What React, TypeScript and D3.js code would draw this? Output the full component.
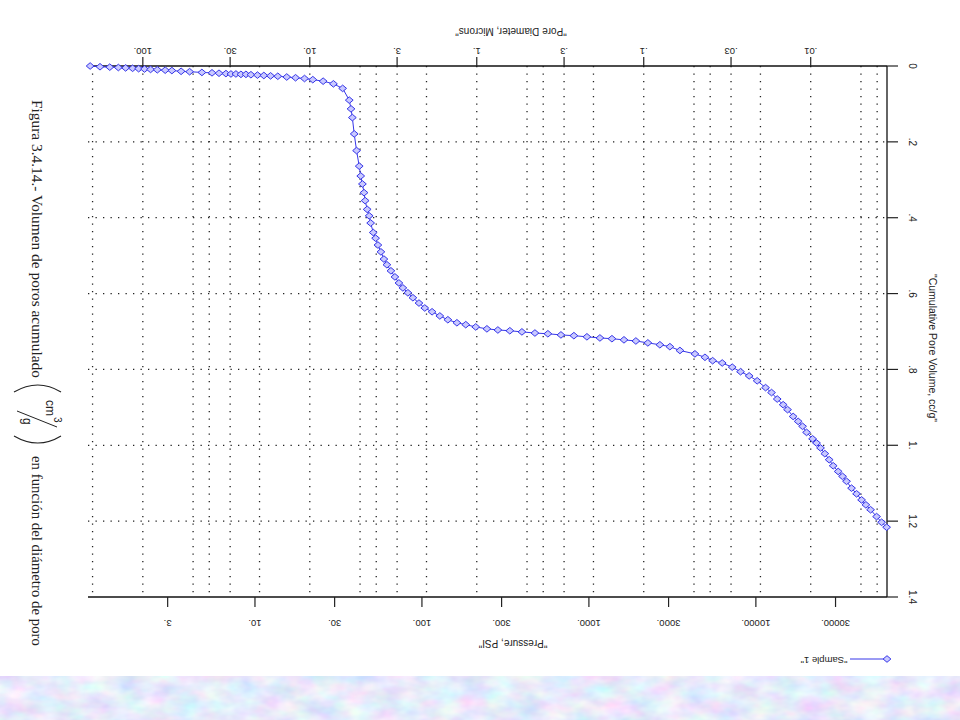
import React from "react";
import * as d3 from "d3";

// ---- data: Sample 1 (pressure in PSI, cumulative pore volume in cc/g) ----
const pressure = [
  1.03, 1.18, 1.35, 1.52, 1.68, 1.85, 2.01, 2.18, 2.37, 2.6, 2.9, 3.18, 3.61, 4.06, 4.81, 5.53, 6.09, 6.7, 7.18, 7.69,
  8.24, 8.83, 9.46, 10.35, 11.3, 12.4, 13.7, 15.5, 17.5, 19.8, 22.2, 25.6, 29.5, 33.5, 36.7, 37.6, 38.3, 39.3, 40.6, 42.1,
  43.0, 44.0, 45.0, 45.7, 47.0, 48.3, 49.3, 51.1, 52.8, 54.5, 56.8, 59.2, 61.7, 65.2, 68.9, 72.8, 76.9, 82.4, 88.3, 96.0,
  104, 115, 128, 143, 162, 183, 210, 245, 285, 336, 397, 475, 568, 680, 813, 973, 1164, 1374, 1622, 1911,
  2255, 2661, 3055, 3508, 4315, 4955, 5510, 6285, 7215, 8095, 9115, 10180, 11430, 12410, 13420, 14570, 15480, 16720, 17920, 19040,
  20120, 21860, 23080, 24390, 25880, 27480, 29040, 31110, 33040, 34920, 37410, 40090, 42960, 45590, 48640, 52840, 56620, 60680,
];
const volume = [
  0.0, 0.002, 0.003, 0.004, 0.005, 0.006, 0.007, 0.008, 0.009, 0.01, 0.011, 0.012, 0.014, 0.015, 0.017, 0.018, 0.019, 0.02, 0.021, 0.021,
  0.022, 0.022, 0.023, 0.024, 0.025, 0.026, 0.027, 0.029, 0.031, 0.033, 0.036, 0.04, 0.047, 0.059, 0.09, 0.113, 0.136, 0.179, 0.223, 0.264,
  0.29, 0.311, 0.334, 0.355, 0.378, 0.395, 0.414, 0.439, 0.454, 0.472, 0.49, 0.509, 0.524, 0.54, 0.556, 0.572, 0.585, 0.598, 0.611, 0.625,
  0.638, 0.648, 0.659, 0.669, 0.677, 0.682, 0.688, 0.693, 0.696, 0.698, 0.701, 0.704, 0.706, 0.709, 0.711, 0.714, 0.717, 0.719, 0.722, 0.725,
  0.73, 0.735, 0.74, 0.75, 0.759, 0.768, 0.777, 0.783, 0.794, 0.806, 0.817, 0.83, 0.848, 0.861, 0.878, 0.893, 0.906, 0.924, 0.937, 0.95,
  0.966, 0.983, 0.994, 1.007, 1.022, 1.038, 1.054, 1.069, 1.082, 1.095, 1.113, 1.128, 1.144, 1.157, 1.17, 1.188, 1.203, 1.216,
];
const seriesName = '"Sample 1"';

const pressureTicks = [3, 10, 30, 100, 300, 1000, 3000, 10000, 30000];
const pressureTickLabels = ["3.", "10.", "30.", "100.", "300.", "1000.", "3000.", "10000.", "30000."];
const diameterTicks = [100, 30, 10, 3, 1, 0.3, 0.1, 0.03, 0.01];
const diameterTickLabels = ["100.", "30.", "10.", "3.", "1.", ".3", ".1", ".03", ".01"];
const diameterGrid = [200, 100, 50, 40, 30, 20, 10, 5, 4, 3, 2, 1, 0.5, 0.4, 0.3, 0.2, 0.1, 0.05, 0.04, 0.03, 0.02, 0.01, 0.005, 0.004];
const volumeTicks = [0, 0.2, 0.4, 0.6, 0.8, 1.0, 1.2, 1.4];
const volumeTickLabels = ["0", ".2", ".4", ".6", ".8", "1.", "1.2", "1.4"];
const washburn = 213; // diameter (microns) = 213 / pressure (psi)

const xTitle = '"Pressure, PSI"';
const topTitle = '"Pore Diameter, Microns"';
const yTitle = '"Cumulative Pore Volume, cc/g"';
const captionA = "Figura 3.4.14.- Volumen de poros acumulado";
const captionB = "en función del diámetro de poro";

export default function App() {
  const left = 88, right = 887, top = 66, bottom = 597;
  const x = d3.scaleLog().domain([1, 61000]).range([left, right]);
  const y = d3.scaleLinear().domain([0, 1.4]).range([top, bottom]);
  const dx = (d: number) => x(washburn / d);

  const pts = pressure.map((p, i) => [x(p), y(volume[i])] as [number, number]);
  const line = d3.line()(pts) || "";
  const diamond = "M0,-3.3L3.9,0L0,3.3L-3.9,0Z";
  const blue = "#3636e8";
  const sans = "Liberation Sans, Arial, sans-serif";
  const serif = "Liberation Serif, Times New Roman, serif";

  return (
    <svg width={960} height={720} style={{ position: "absolute", left: 0, top: 0, background: "#fff" }}>
      <defs>
        <filter id="tex" x="0" y="0" width="100%" height="100%">
          <feTurbulence type="fractalNoise" baseFrequency="0.035 0.06" numOctaves={3} seed={5} />
          <feColorMatrix type="matrix" values="0.55 0 0 0 0.52  0 0.5 0 0 0.58  0 0 0.2 0 0.86  0 0 0 0 1" />
        </filter>
      </defs>
      <rect x={0} y={0} width={960} height={720} fill="#fff" />
      <rect x={0} y={676} width={960} height={44} filter="url(#tex)" />

      {/* grid */}
      {diameterGrid.map((d, i) => (
        <line key={"vg" + i} x1={dx(d)} x2={dx(d)} y1={top} y2={bottom} stroke="#222" strokeWidth={1.3} strokeDasharray="1.3 6.2" />
      ))}
      {volumeTicks.slice(1, -1).map((v, i) => (
        <line key={"hg" + i} x1={left} x2={right} y1={y(v)} y2={y(v)} stroke="#222" strokeWidth={1.3} strokeDasharray="1.3 6.2" />
      ))}

      {/* axes lines */}
      <line x1={left} x2={right} y1={top} y2={top} stroke="#111" strokeWidth={1.3} />
      <line x1={left} x2={right} y1={bottom} y2={bottom} stroke="#111" strokeWidth={1.3} />
      <line x1={right} x2={right} y1={top} y2={bottom} stroke="#111" strokeWidth={1.3} />

      {/* top axis: pore diameter (upside down labels) */}
      {diameterTicks.map((d, i) => (
        <g key={"dt" + i}>
          <line x1={dx(d)} x2={dx(d)} y1={top - 9} y2={top} stroke="#222" strokeWidth={1.2} />
          <text x={dx(d)} y={51} transform={`rotate(180 ${dx(d)} 51)`} textAnchor="middle" dominantBaseline="central" fontFamily={sans} fontSize={9.5} fill="#222">
            {diameterTickLabels[i]}
          </text>
        </g>
      ))}
      <text x={511} y={31} transform="rotate(180 511 31)" textAnchor="middle" dominantBaseline="central" fontFamily={sans} fontSize={10} fill="#222">
        {topTitle}
      </text>

      {/* bottom axis: pressure (upside down labels) */}
      {pressureTicks.map((p, i) => (
        <g key={"pt" + i}>
          <line x1={x(p)} x2={x(p)} y1={bottom} y2={bottom + 10} stroke="#222" strokeWidth={1.2} />
          <text x={x(p)} y={623} transform={`rotate(180 ${x(p)} 623)`} textAnchor="middle" dominantBaseline="central" fontFamily={sans} fontSize={9.5} fill="#222">
            {pressureTickLabels[i]}
          </text>
        </g>
      ))}
      <text x={513} y={643} transform="rotate(180 513 643)" textAnchor="middle" dominantBaseline="central" fontFamily={sans} fontSize={10} fill="#222">
        {xTitle}
      </text>

      {/* right axis: volume */}
      {volumeTicks.map((v, i) => (
        <g key={"vt" + i}>
          <line x1={right} x2={right + 11} y1={y(v)} y2={y(v)} stroke="#222" strokeWidth={1.2} />
          <text x={912} y={y(v)} transform={`rotate(90 912 ${y(v)})`} textAnchor="middle" dominantBaseline="central" fontFamily={sans} fontSize={10} fill="#222">
            {volumeTickLabels[i]}
          </text>
        </g>
      ))}
      <text x={933} y={348} transform="rotate(90 933 348)" textAnchor="middle" dominantBaseline="central" fontFamily={sans} fontSize={10.5} fill="#222">
        {yTitle}
      </text>

      {/* series */}
      <path d={line} fill="none" stroke={blue} strokeWidth={1} />
      {pts.map((p, i) => (
        <path key={"m" + i} d={diamond} transform={`translate(${p[0]},${p[1]})`} fill="#c9c9ff" stroke={blue} strokeWidth={1} />
      ))}

      {/* legend */}
      <line x1={850} x2={887} y1={659} y2={659} stroke={blue} strokeWidth={1} />
      <path d={diamond} transform="translate(887,659)" fill="#c9c9ff" stroke={blue} strokeWidth={1} />
      <text x={824} y={660} transform="rotate(180 824 660)" textAnchor="middle" dominantBaseline="central" fontFamily={sans} fontSize={9.5} fill="#222">
        {seriesName}
      </text>

      {/* caption (rotated) */}
      <g transform="translate(37,0) rotate(90)" fontFamily={serif} fill="#222">
        <text x={100} y={5} fontSize={15} textLength={278} lengthAdjust="spacingAndGlyphs">{captionA}</text>
        <path d="M392,-24 Q378,-1 392,23" fill="none" stroke="#222" strokeWidth={1.1} />
        <text x={400} y={-9} fontSize={12} fontFamily={sans}>cm</text>
        <text x={417} y={-17} fontSize={10} fontFamily={sans}>3</text>
        <line x1={427} y1={-20} x2={411} y2={20} stroke="#222" strokeWidth={1} />
        <text x={418} y={14} fontSize={12} fontFamily={sans}>g</text>
        <path d="M436,-24 Q450,-1 436,23" fill="none" stroke="#222" strokeWidth={1.1} />
        <text x={456} y={5} fontSize={15} textLength={190} lengthAdjust="spacingAndGlyphs">{captionB}</text>
      </g>
    </svg>
  );
}
